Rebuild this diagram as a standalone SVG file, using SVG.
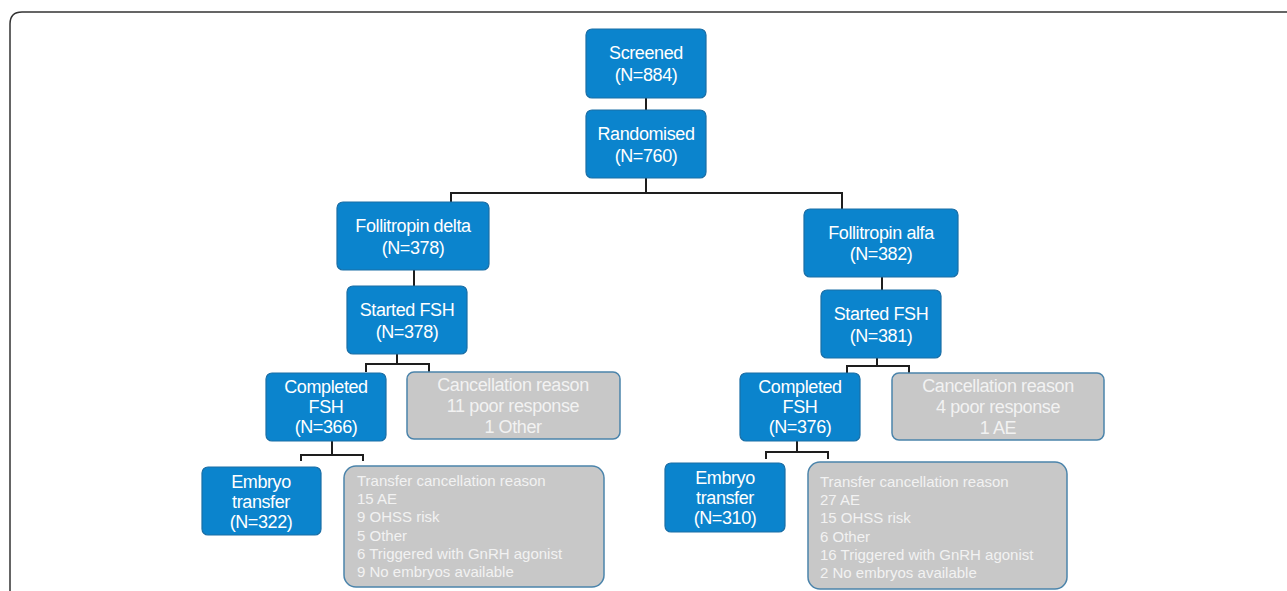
<svg xmlns="http://www.w3.org/2000/svg" width="1287" height="591" viewBox="0 0 1287 591">
<style>
.b{fill:#0b84cd;stroke:#1a6ea6;stroke-width:1.2}
.g{fill:#c8c8c8;stroke:#4b84ab;stroke-width:1.5}
.bt{font-family:"Liberation Sans",Arial,sans-serif;font-size:18px;letter-spacing:-0.4px;fill:#ffffff;text-anchor:middle}
.gt{font-family:"Liberation Sans",Arial,sans-serif;font-size:18px;letter-spacing:-0.4px;fill:#f2f2f2;text-anchor:middle}
.lt{font-family:"Liberation Sans",Arial,sans-serif;font-size:15px;fill:#f2f2f2}
.c{fill:none;stroke:#1e1e1e;stroke-width:2}
</style>
<rect width="1287" height="591" fill="#ffffff"/>
<path d="M10,600 V24 Q10,12 22,12 H1300" fill="none" stroke="#333333" stroke-width="1.5"/>
<g id="connectors">
<path class="c" d="M646,97 V110"/>
<path class="c" d="M646,178 V193 M451,202 V193 H842 V209"/>
<path class="c" d="M414,270 V286"/>
<path class="c" d="M882,277 V290"/>
<path class="c" d="M397,354 V364 M366,372 V364 H429 V372"/>
<path class="c" d="M877,358 V366 M847,373 V366 H909 V373"/>
<path class="c" d="M332,441 V455 M301,461 V455 H363 V461"/>
<path class="c" d="M797,441 V452 M766,459 V452 H828 V459"/>
</g>
<g id="screened"><rect class="b" x="586" y="29" width="120" height="69" rx="6"/><text class="bt" x="646" y="59">Screened</text><text class="bt" x="646" y="81">(N=884)</text></g>
<g id="randomised"><rect class="b" x="586" y="110" width="120" height="68" rx="6"/><text class="bt" x="646" y="140">Randomised</text><text class="bt" x="646" y="162">(N=760)</text></g>
<g id="delta"><rect class="b" x="337" y="202" width="152" height="68" rx="6"/><text class="bt" x="413" y="232">Follitropin delta</text><text class="bt" x="413" y="254">(N=378)</text></g>
<g id="alfa"><rect class="b" x="804" y="209" width="154" height="68" rx="6"/><text class="bt" x="881" y="239">Follitropin alfa</text><text class="bt" x="881" y="260">(N=382)</text></g>
<g id="started-left"><rect class="b" x="347" y="286" width="120" height="68" rx="6"/><text class="bt" x="407" y="316">Started FSH</text><text class="bt" x="407" y="338">(N=378)</text></g>
<g id="started-right"><rect class="b" x="821" y="290" width="120" height="68" rx="6"/><text class="bt" x="881" y="320">Started FSH</text><text class="bt" x="881" y="342">(N=381)</text></g>
<g id="completed-left"><rect class="b" x="266" y="373" width="120" height="68" rx="6"/><text class="bt" x="326" y="393">Completed</text><text class="bt" x="326" y="413">FSH</text><text class="bt" x="326" y="433">(N=366)</text></g>
<g id="cancel-left"><rect class="g" x="407" y="372" width="213" height="67" rx="7"/><text class="gt" x="513" y="391">Cancellation reason</text><text class="gt" x="513" y="412">11 poor response</text><text class="gt" x="513" y="433">1 Other</text></g>
<g id="completed-right"><rect class="b" x="740" y="373" width="120" height="68" rx="6"/><text class="bt" x="800" y="393">Completed</text><text class="bt" x="800" y="413">FSH</text><text class="bt" x="800" y="433">(N=376)</text></g>
<g id="cancel-right"><rect class="g" x="892" y="373" width="212" height="67" rx="7"/><text class="gt" x="998" y="392">Cancellation reason</text><text class="gt" x="998" y="413">4 poor response</text><text class="gt" x="998" y="434">1 AE</text></g>
<g id="embryo-left"><rect class="b" x="202" y="467" width="119" height="68" rx="6"/><text class="bt" x="261" y="488">Embryo</text><text class="bt" x="261" y="508">transfer</text><text class="bt" x="261" y="528">(N=322)</text></g>
<g id="tcancel-left"><rect class="g" x="344" y="466" width="260" height="121" rx="12"/>
<text class="lt" x="357" y="486">Transfer cancellation reason</text><text class="lt" x="357" y="504">15 AE</text><text class="lt" x="357" y="522">9 OHSS risk</text><text class="lt" x="357" y="541">5 Other</text><text class="lt" x="357" y="559">6 Triggered with GnRH agonist</text><text class="lt" x="357" y="577">9 No embryos available</text></g>
<g id="embryo-right"><rect class="b" x="665" y="463" width="120" height="69" rx="6"/><text class="bt" x="725" y="484">Embryo</text><text class="bt" x="725" y="504">transfer</text><text class="bt" x="725" y="524">(N=310)</text></g>
<g id="tcancel-right"><rect class="g" x="808" y="462" width="259" height="127" rx="12"/>
<text class="lt" x="820" y="487">Transfer cancellation reason</text><text class="lt" x="820" y="505">27 AE</text><text class="lt" x="820" y="523">15 OHSS risk</text><text class="lt" x="820" y="542">6 Other</text><text class="lt" x="820" y="560">16 Triggered with GnRH agonist</text><text class="lt" x="820" y="578">2 No embryos available</text></g>
</svg>
